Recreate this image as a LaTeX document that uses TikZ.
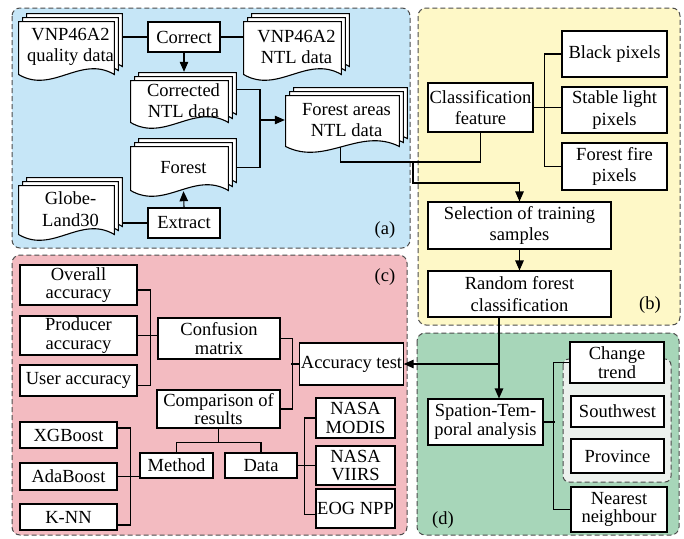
\documentclass[tikz,border=0pt]{standalone}
\usepackage{fontspec}
\setmainfont{Liberation Serif}
\usetikzlibrary{arrows.meta, calc}

\definecolor{panelA}{RGB}{198,230,247}
\definecolor{panelB}{RGB}{254,248,199}
\definecolor{panelC}{RGB}{243,187,193}
\definecolor{panelD}{RGB}{167,214,185}
\definecolor{subpanel}{RGB}{236,241,237}

\tikzset{
  panel/.style={draw=black!70, dash pattern=on 5pt off 3pt, line width=1pt, rounded corners=8pt},
  box/.style={draw, fill=white, line width=1.1pt, align=center, inner sep=1pt},
  roomy/.style={font=\fontsize{18.5}{21.5}\selectfont},
  % three stacked sheets with a wavy lower edge
  docstack/.style={roomy, align=center, inner sep=1pt, path picture={
      \foreach \s in {8,4,0}
        \draw[fill=white, line width=1.1pt] let \p1=(path picture bounding box.south west),
            \p2=(path picture bounding box.north east), \n1={\x2-\x1-9pt} in
          ({\x1+0.6pt+\s pt},{\y1+6.5pt+\s pt}) |- ({\x2-8.6pt+\s pt},{\y2-8.6pt+\s pt})
          -- ({\x2-8.6pt+\s pt},{\y1+6.5pt+\s pt})
          .. controls +({-0.35*\n1},20pt) and +({0.35*\n1},-20pt) .. ({\x1+0.6pt+\s pt},{\y1+6.5pt+\s pt}) -- cycle;
  }},
  wire/.style={line width=1.1pt},
  arr/.style={wire, -{Triangle[length=10pt,width=8.5pt]}}
}

\begin{document}
\begin{tikzpicture}[x=1pt, y=-1pt, every node/.style={font=\fontsize{18.5}{18.5}\selectfont}]
  \useasboundingbox (0,0) rectangle (684,538);

  % Coloured panels
  \draw[panel, fill=panelA] (12,8) rectangle (410,248);
  \draw[panel, fill=panelB] (418,8) rectangle (680,325);
  \draw[panel, fill=panelC] (12,255) rectangle (407,535);
  \draw[panel, fill=panelD] (417,333) rectangle (679,535);
  \draw[panel, fill=subpanel, rounded corners=6pt] (563,359) rectangle (671,482);

  % Panel (a): data
  \node[docstack, minimum width=105pt, minimum height=68pt] (qual) at (70.5,47) {VNP46A2\\quality data};
  \node[box, minimum width=72pt, minimum height=30pt] (correct) at (184,37) {Correct};
  \node[docstack, minimum width=107pt, minimum height=68pt] (ntl) at (296.5,47) {VNP46A2\\NTL data};
  \node[docstack, minimum width=107pt, minimum height=57pt] (corr) at (183.5,100.5) {Corrected\\NTL data};
  \node[docstack, minimum width=107pt, minimum height=59pt] (forest) at (183.5,167.5) {Forest};
  \node[docstack, minimum width=105pt, minimum height=64pt] (globe) at (70.5,209) {Globe-\\Land30};
  \node[box, minimum width=72pt, minimum height=30pt] (extract) at (184,223) {Extract};
  \node[docstack, minimum width=123pt, minimum height=66pt] (fa) at (346.5,120) {Forest areas\\NTL data};
  \node (la) at (385,230) {(a)};

  \draw[wire] (correct.west) -- (correct.west -| qual.east);
  \draw[wire] (correct.east) -- (correct.east -| ntl.west);
  \draw[arr] (correct.south) -- (correct.south |- corr.north);
  \coordinate (ja) at (260,120);
  \draw[wire] ([yshift=11pt]corr.east) -| (ja) |- (forest.east);
  \draw[arr] (ja) -- (fa.west);
  \draw[wire] (extract.west) -- (extract.west -| globe.east);
  \draw[arr] (extract.north) -- ([yshift=6pt]forest.south);

  % Panel (b): classification
  \node[box, roomy, minimum width=105pt, minimum height=49pt] (cf) at (480.5,107.5) {Classification\\feature};
  \node[box, roomy, minimum width=105pt, minimum height=46pt] (black) at (614.5,54) {Black pixels};
  \node[box, roomy, minimum width=105pt, minimum height=46pt] (stable) at (614.5,110) {Stable light\\pixels};
  \node[box, roomy, minimum width=105pt, minimum height=47pt] (fire) at (614.5,166.5) {Forest fire\\pixels};
  \node[box, roomy, minimum width=183pt, minimum height=47pt] (sel) at (519.5,225.5) {Selection of training\\samples};
  \node[box, roomy, minimum width=183pt, minimum height=46pt] (rf) at (519.5,294) {Random forest\\classification};
  \node (lb) at (650,305) {(b)};

  \draw[wire] (cf.east) -- (cf.east -| stable.west);
  \draw[wire] (black.west) -- ++(-17,0) |- (fire.west);
  \coordinate (jb) at (413,162);
  \coordinate (jc) at (519.5,183);
  \draw[wire] ([xshift=-6pt,yshift=6pt]fa.south) |- (jb) -| (cf.south);
  \draw[arr] (jb) |- (jc) -- (sel.north);
  \draw[arr] (sel.south) -- (rf.north);

  % Panel (d): analysis
  \node[box, minimum width=115pt, minimum height=46pt] (st) at (485.5,422) {Spation-Tem-\\poral analysis};
  \node[box, minimum width=94pt, minimum height=41pt] (ct) at (617,362.5) {Change\\trend};
  \node[box, minimum width=93pt, minimum height=31pt] (sw) at (617.5,411.5) {Southwest};
  \node[box, minimum width=93pt, minimum height=34pt] (prov) at (617.5,456) {Province};
  \node[box, minimum width=96pt, minimum height=45pt] (nn) at (619,509.5) {Nearest\\neighbour};
  \node (ld) at (443,520) {(d)};

  \draw[wire] (ct.west) -- ++(-16,0) |- (nn.west);
  \draw[wire] (st.east) -- ++(11,0);
  \coordinate (jd) at (499,364);
  \draw[wire] ([xshift=-20.5pt]rf.south) -- (jd);
  \draw[arr] (jd) -- (jd |- st.north);

  % Panel (c): accuracy
  \node[box, minimum width=117pt, minimum height=40pt] (oa) at (78.5,285) {Overall\\accuracy};
  \node[box, minimum width=117pt, minimum height=39pt] (pa) at (78.5,335.5) {Producer\\accuracy};
  \node[box, minimum width=117pt, minimum height=31pt] (ua) at (78.5,380.5) {User accuracy};
  \node[box, minimum width=122pt, minimum height=41pt] (cm) at (219,338.5) {Confusion\\matrix};
  \node[box, minimum width=123pt, minimum height=38pt] (cr) at (218.5,409) {Comparison of\\results};
  \node[box, minimum width=103pt, minimum height=42pt] (acc) at (351.5,364) {Accuracy test};
  \node[box, minimum width=73pt, minimum height=25pt] (method) at (176.5,465.5) {Method};
  \node[box, minimum width=72pt, minimum height=25pt] (data) at (261,465.5) {Data};
  \node[box, minimum width=97pt, minimum height=26pt] (xg) at (68.5,435) {XGBoost};
  \node[box, minimum width=97pt, minimum height=27pt] (ada) at (68.5,476.5) {AdaBoost};
  \node[box, minimum width=97pt, minimum height=26pt] (knn) at (68.5,517) {K-NN};
  \node[box, minimum width=79pt, minimum height=40pt] (modis) at (355.5,418) {NASA\\MODIS};
  \node[box, minimum width=79pt, minimum height=39pt] (viirs) at (355.5,465.5) {NASA\\VIIRS};
  \node[box, minimum width=79pt, minimum height=39pt] (eog) at (355.5,508.5) {EOG NPP};
  \node (lc) at (385,277) {(c)};

  \draw[wire] ([yshift=-5pt]oa.east) -- ++(13,0) |- ([yshift=-5pt]ua.east);
  \draw[wire] (pa.east) -- (pa.east -| cm.west);
  \draw[wire] (cm.east) -- ++(12,0) |- (cr.east);
  \draw[wire] (acc.west) -- ++(-8,0);
  \draw[arr] (jd) -- (acc.east);
  \draw[wire] (cr.south) -- ++(0,14) coordinate (jm);
  \draw[wire] (method.north) |- (jm) -| (data.north);
  \draw[wire] ([yshift=7pt]xg.east) -- ++(13,0) |- ([yshift=-8pt]knn.east);
  \draw[wire] (ada.east) -- (ada.east -| method.west);
  \draw[wire] (modis.west) -- ++(-11,0) |- ([yshift=-6pt]eog.west);
  \draw[wire] (data.east) -- (data.east -| viirs.west);
\end{tikzpicture}
\end{document}
